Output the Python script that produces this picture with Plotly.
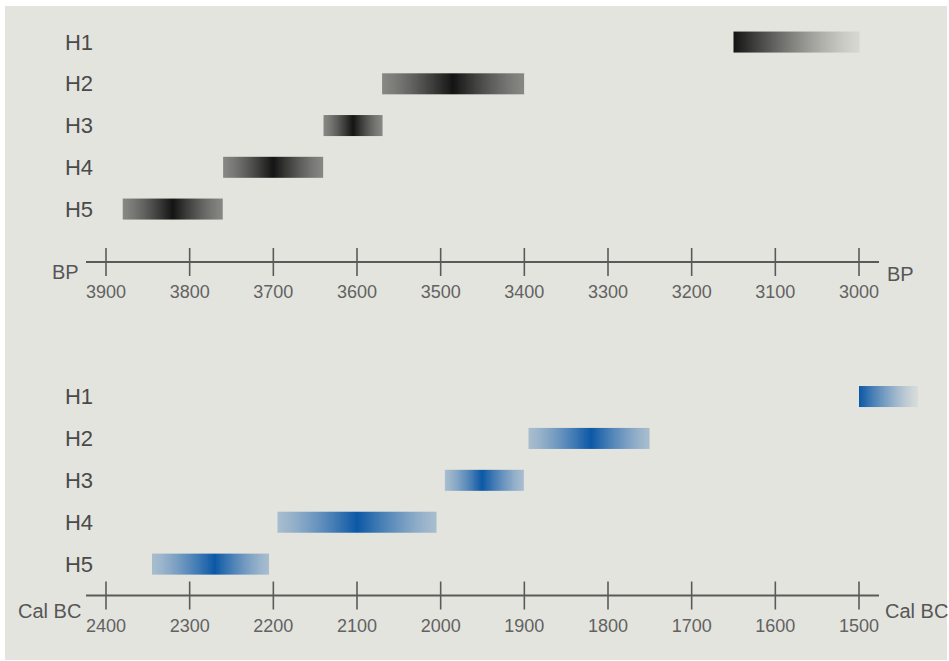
import numpy as np
import plotly.graph_objects as go

# ---- data -------------------------------------------------------------
phases = ["H1", "H2", "H3", "H4", "H5"]

# radiocarbon ranges (years BP): older bound, most probable date, younger bound
bp_start = [3150, 3570, 3640, 3760, 3880]
bp_peak = [3150, 3485, 3605, 3700, 3820]
bp_end = [3000, 3400, 3570, 3640, 3760]

# calibrated ranges (years BC)
cal_start = [1500, 1895, 1995, 2195, 2345]
cal_peak = [1500, 1820, 1950, 2100, 2270]
cal_end = [1430, 1750, 1900, 2005, 2205]

bp_ticks = [3900, 3800, 3700, 3600, 3500, 3400, 3300, 3200, 3100, 3000]
cal_ticks = [2400, 2300, 2200, 2100, 2000, 1900, 1800, 1700, 1600, 1500]

# ---- layout constants ---------------------------------------------------
W, H = 949, 661
BG = "#e4e4de"
AXIS_COL = "#5a5a5a"
TICKLAB_COL = "#626262"
LABEL_COL = "#4a4a4a"
FONT = "Liberation Sans"

PX_PER_YEAR = (859 - 106) / 900.0          # horizontal scale of both time axes
X0_PX = 106                                  # pixel of the first tick


def x_range(first_tick):
    return [first_tick + X0_PX / PX_PER_YEAR,
            first_tick - (W - X0_PX) / PX_PER_YEAR]


def y_range(first_row_px, row_step_px):
    # value 1 sits at first_row_px, one unit per row step (reversed axis)
    v = lambda px: (px - first_row_px) / row_step_px + 1
    return [v(H), v(0)], v


top_range, top_v = y_range(42, 41.75)
bot_range, bot_v = y_range(396.5, 41.9)
top_axis_y = top_v(262)
bot_axis_y = bot_v(595.5)


def bar_trace(start, peak, end, row, colour, edge, xa, ya, n=160):
    lo, hi = min(start, end), max(start, end)
    edges = np.linspace(lo, hi, n + 1)
    centres = (edges[:-1] + edges[1:]) / 2
    one_sided = (peak == start) or (peak == end)
    floor = 0.06 if one_sided else edge
    left_half = max(peak - lo, 1e-9)
    right_half = max(hi - peak, 1e-9)
    t = np.where(centres < peak, (peak - centres) / left_half,
                 (centres - peak) / right_half)
    t = np.clip(t, 0, 1)
    z = floor + (1 - floor) * (1 - t) ** 1.3
    return go.Heatmap(
        x=edges, y=[row - 0.25, row + 0.25], z=[z],
        zmin=0, zmax=1, colorscale=[[0, BG], [1, colour]],
        showscale=False, hoverinfo="skip", xaxis=xa, yaxis=ya,
    )


fig = go.Figure()

for i in range(len(phases)):
    fig.add_trace(bar_trace(bp_start[i], bp_peak[i], bp_end[i], i + 1,
                            "#141414", 0.45, "x", "y"))
    fig.add_trace(bar_trace(cal_start[i], cal_peak[i], cal_end[i], i + 1,
                            "#0c58a6", 0.28, "x2", "y2"))

# crossing tick marks on both time axes
fig.add_trace(go.Scatter(
    x=bp_ticks, y=[top_axis_y] * len(bp_ticks), mode="markers",
    marker=dict(symbol="line-ns", size=20, line=dict(width=1.6, color=AXIS_COL)),
    hoverinfo="skip", xaxis="x", yaxis="y", showlegend=False))
fig.add_trace(go.Scatter(
    x=cal_ticks, y=[bot_axis_y] * len(cal_ticks), mode="markers",
    marker=dict(symbol="line-ns", size=20, line=dict(width=1.6, color=AXIS_COL)),
    hoverinfo="skip", xaxis="x2", yaxis="y2", showlegend=False))

pad = 20 / PX_PER_YEAR
shapes = [
    dict(type="rect", xref="paper", yref="paper",
         x0=5 / W, x1=947 / W, y0=1 - 660 / H, y1=1 - 6 / H,
         fillcolor=BG, line=dict(width=0), layer="below"),
    dict(type="line", xref="x", yref="y",
         x0=bp_ticks[0] + pad, x1=bp_ticks[-1] - pad,
         y0=top_axis_y, y1=top_axis_y, line=dict(color=AXIS_COL, width=2)),
    dict(type="line", xref="x2", yref="y2",
         x0=cal_ticks[0] + pad, x1=cal_ticks[-1] - pad,
         y0=bot_axis_y, y1=bot_axis_y, line=dict(color=AXIS_COL, width=2)),
]


def ann(text, x_px, y_px, xanchor):
    return dict(text=text, xref="paper", yref="paper",
                x=x_px / W, y=1 - y_px / H, xanchor=xanchor, yanchor="middle",
                showarrow=False, font=dict(family=FONT, size=20, color="#565656"))


annotations = [
    ann("BP", 81, 272, "right"),
    ann("BP", 885, 274, "left"),
    ann("Cal BC", 83, 611, "right"),
    ann("Cal BC", 883, 611, "left"),
]

common_x = dict(domain=[0, 1], showgrid=False, zeroline=False, showline=False,
                ticks="", anchor="free", side="bottom",
                tickfont=dict(family=FONT, size=18, color=TICKLAB_COL),
                ticklabelstandoff=17, fixedrange=True)
common_y = dict(domain=[0, 1], showgrid=False, zeroline=False, showline=False,
                ticks="", anchor="free", side="left",
                tickvals=list(range(1, len(phases) + 1)), ticktext=phases,
                tickfont=dict(family=FONT, size=22, color=LABEL_COL),
                position=95 / W, ticklabelstandoff=2, fixedrange=True)

fig.update_layout(
    width=W, height=H,
    margin=dict(l=0, r=0, t=0, b=0),
    paper_bgcolor="white", plot_bgcolor="rgba(0,0,0,0)",
    showlegend=False,
    xaxis=dict(common_x, range=x_range(bp_ticks[0]), tickvals=bp_ticks,
               position=1 - 262 / H),
    xaxis2=dict(common_x, range=x_range(cal_ticks[0]), tickvals=cal_ticks,
                position=1 - 595.5 / H, overlaying="x"),
    yaxis=dict(common_y, range=top_range),
    yaxis2=dict(common_y, range=bot_range, overlaying="y"),
    shapes=shapes,
    annotations=annotations,
)

fig.write_html("out.html")
